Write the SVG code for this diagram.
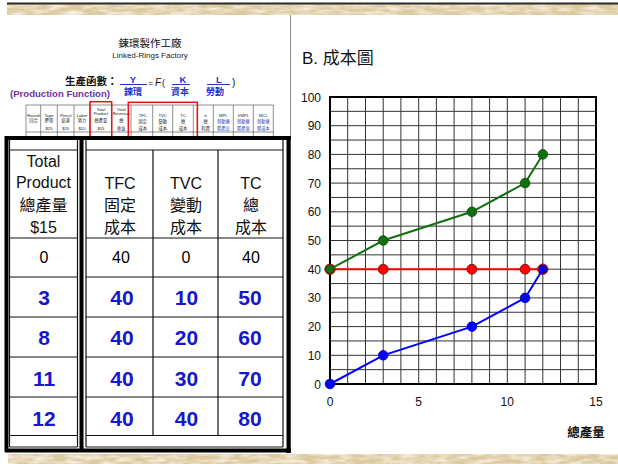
<svg xmlns="http://www.w3.org/2000/svg" width="618" height="464" viewBox="0 0 618 464">
<defs>
<filter id="parch" x="0" y="0" width="1" height="1">
<feTurbulence type="fractalNoise" baseFrequency="0.06 0.25" numOctaves="3" seed="4"/>
<feColorMatrix values="0 0 0 0 1  0 0 0 0 0.97  0 0 0 0 0.9  1.6 0 0 0 -0.55"/>
</filter>
<style>
text{font-family:"Liberation Sans","Noto Sans CJK TC",sans-serif;}
.cj{font-family:"Noto Sans CJK TC","Liberation Sans",sans-serif;}
.st{font-size:4.2px;text-anchor:middle;fill:#222;}
.stb{font-size:4.2px;text-anchor:middle;fill:#3344bb;}
.hd{font-size:16px;text-anchor:middle;fill:#111;}
.r0{font-size:16px;text-anchor:middle;fill:#000;}
.bl{font-size:21px;font-weight:bold;text-anchor:middle;fill:#1616cc;}
.thick{stroke:#000;stroke-width:4;fill:none;}
.thin{stroke:#111;stroke-width:1.2;fill:none;}
.sml{stroke:#444;stroke-width:0.6;fill:none;}
.ax{font-size:12px;fill:#111;}
.minor{stroke:#333;stroke-width:1;fill:none;}
</style>
</defs>
<rect width="618" height="464" fill="#fff"/>
<g id="parchment">
<rect x="7" y="4" width="611" height="11" fill="#dcc9a0"/>
<rect x="7" y="4" width="611" height="11" filter="url(#parch)"/>
<rect x="8" y="454" width="610" height="10" fill="#dcc9a0"/>
<rect x="8" y="454" width="610" height="10" filter="url(#parch)"/>
<line x1="7" y1="3.5" x2="618" y2="3.5" stroke="#2a2a2a" stroke-width="2"/>
<line x1="290.5" y1="15" x2="290.5" y2="452" stroke="#888" stroke-width="1"/>
</g>

<g id="header">
<text x="150" y="47" class="cj" font-size="10.5" text-anchor="middle" fill="#111">鍊環製作工廠</text>
<text x="150" y="58" font-size="8" text-anchor="middle" fill="#222">Linked-Rings Factory</text>
<text x="65" y="85" class="cj" font-size="10.5" font-weight="bold" fill="#111">生產函數：</text>
<text x="133" y="83" font-size="9.5" font-weight="bold" text-anchor="middle" fill="#2233cc">Y</text>
<line x1="120" y1="84.5" x2="147" y2="84.5" stroke="#2233cc" stroke-width="1"/>
<text x="133" y="95" class="cj" font-size="9" font-weight="bold" text-anchor="middle" fill="#2233cc">鍊環</text>
<text x="148" y="86" font-size="9" fill="#111">=</text>
<text x="155" y="86" font-family="Liberation Serif,serif" font-style="italic" font-size="10" fill="#111">F</text>
<text x="162" y="86" font-size="9" fill="#111">(</text>
<text x="183" y="83" font-size="9.5" font-weight="bold" text-anchor="middle" fill="#2233cc">K</text>
<line x1="172" y1="84.5" x2="190" y2="84.5" stroke="#2233cc" stroke-width="1"/>
<text x="180" y="95" class="cj" font-size="9" font-weight="bold" text-anchor="middle" fill="#2233cc">資本</text>
<text x="219" y="83" font-size="9.5" font-weight="bold" text-anchor="middle" fill="#2233cc">L</text>
<line x1="207" y1="84.5" x2="230" y2="84.5" stroke="#2233cc" stroke-width="1"/>
<text x="215" y="95" class="cj" font-size="9" font-weight="bold" text-anchor="middle" fill="#2233cc">勞動</text>
<text x="232" y="86" font-size="10" fill="#111">)</text>
<text x="10" y="97" font-size="9.5" font-weight="bold" fill="#7030a0" textLength="100" lengthAdjust="spacingAndGlyphs">(Production Function)</text>
</g>

<g id="small-table">
<path class="sml" d="M26,105H273.3M26,132H273.3M26,105V136M40.7,105V136M57.3,105V136M74,105V136M90,105V136M111.7,105V136M131,105V136M152.7,105V136M172.7,105V136M193.3,105V136M197.7,105V136M213.3,105V136M233.3,105V136M253.3,105V136M273.3,105V136"/>
<text class="st" x="33.4" y="116.5">Round</text><text class="st cj" x="33.4" y="122">回合</text>
<text class="st" x="49" y="116.5">Tape</text><text class="st cj" x="49" y="122">膠帶</text><text class="st" x="49" y="129.6">$25</text>
<text class="st" x="65.7" y="116.5">Pencil</text><text class="st cj" x="65.7" y="122">鉛筆</text><text class="st" x="65.7" y="129.6">$15</text>
<text class="st" x="82" y="116.5">Labor</text><text class="st cj" x="82" y="122">勞力</text><text class="st" x="82" y="129.6">$10</text>
<text class="st" x="100.9" y="110.5">Total</text><text class="st" x="100.9" y="115.3">Product</text><text class="st cj" x="100.9" y="122">總產量</text><text class="st" x="100.9" y="129.6">$15</text>
<text class="st" x="121.3" y="110.5">Total</text><text class="st" x="121.3" y="115.3" textLength="17" lengthAdjust="spacingAndGlyphs">Revenue</text><text class="st cj" x="121.3" y="122">總</text><text class="st cj" x="121.3" y="129.6">收益</text>
<text class="st" x="142.8" y="117">TFC</text><text class="st cj" x="142.8" y="123">固定</text><text class="st cj" x="142.8" y="129.6">成本</text>
<text class="st" x="162.7" y="117">TVC</text><text class="st cj" x="162.7" y="123">變動</text><text class="st cj" x="162.7" y="129.6">成本</text>
<text class="st" x="183" y="117">TC</text><text class="st cj" x="183" y="123">總</text><text class="st cj" x="183" y="129.6">成本</text>
<text class="st" x="205.5" y="117">π</text><text class="st cj" x="205.5" y="123">總</text><text class="st cj" x="205.5" y="129.6">利潤</text>
<text class="st" x="223.3" y="117">MPL</text><text class="stb cj" x="223.3" y="123">勞動邊</text><text class="stb cj" x="223.3" y="129.6">際產出</text>
<text class="st" x="243.3" y="117">VMPL</text><text class="stb cj" x="243.3" y="123">勞動邊</text><text class="stb cj" x="243.3" y="129.6">際產值</text>
<text class="st" x="263.3" y="117">MCL</text><text class="stb cj" x="263.3" y="123">勞動邊</text><text class="stb cj" x="263.3" y="129.6">際成本</text>
<rect x="90" y="101.7" width="21.7" height="36" fill="none" stroke="#ee1111" stroke-width="1.5"/>
<rect x="128.3" y="102.3" width="69" height="35.5" fill="none" stroke="#ee1111" stroke-width="1.5"/>
</g>

<g id="big-table">
<rect x="9" y="140" width="69" height="307" fill="#fff"/>
<rect x="84" y="140" width="202" height="307" fill="#fff"/>
<path class="thin" d="M9.5,140V447M77.5,140V447M9.5,150H77.5M9.5,238H77.5M9.5,277H77.5M9.5,317H77.5M9.5,357H77.5M9.5,397H77.5M9.5,435.5H77.5M9.5,447H77.5"/>
<path class="thin" d="M86,140V447M283,140V447M153,150V435.5M218,150V435.5M86,150H283M86,238H283M86,277H283M86,317H283M86,357H283M86,397H283M86,435.5H283M86,447H283"/>
<path class="thick" d="M5,138H291M5,450.5H291M6.5,136V452M81.5,136V452M288.5,136V453"/>
<text class="hd" x="43.5" y="167">Total</text>
<text class="hd" x="43.5" y="188">Product</text>
<text class="hd cj" x="43.5" y="211">總產量</text>
<text class="hd" x="43.5" y="233">$15</text>
<text class="hd" x="120" y="189">TFC</text><text class="hd cj" x="120" y="211">固定</text><text class="hd cj" x="120" y="233">成本</text>
<text class="hd" x="186" y="189">TVC</text><text class="hd cj" x="186" y="211">變動</text><text class="hd cj" x="186" y="233">成本</text>
<text class="hd" x="251" y="189">TC</text><text class="hd cj" x="251" y="211">總</text><text class="hd cj" x="251" y="233">成本</text>
<text class="r0" x="44" y="263">0</text><text class="r0" x="121" y="263">40</text><text class="r0" x="186" y="263">0</text><text class="r0" x="251" y="263">40</text>
<text class="bl" x="44" y="305">3</text><text class="bl" x="122" y="305">40</text><text class="bl" x="186.5" y="305">10</text><text class="bl" x="250" y="305">50</text>
<text class="bl" x="44" y="345">8</text><text class="bl" x="122" y="345">40</text><text class="bl" x="186.5" y="345">20</text><text class="bl" x="250" y="345">60</text>
<text class="bl" x="44" y="386">11</text><text class="bl" x="122" y="386">40</text><text class="bl" x="186.5" y="386">30</text><text class="bl" x="250" y="386">70</text>
<text class="bl" x="44" y="426">12</text><text class="bl" x="122" y="426">40</text><text class="bl" x="186.5" y="426">40</text><text class="bl" x="250" y="426">80</text>
</g>

<g id="chart">
<text x="302" y="64" font-size="17" fill="#111">B. <tspan class="cj">成本圖</tspan></text>
<path class="minor" d="M347.7,97V384M365.5,97V384M383.2,97V384M400.9,97V384M418.7,97V384M436.4,97V384M454.1,97V384M471.9,97V384M489.6,97V384M507.3,97V384M525.1,97V384M542.8,97V384M560.5,97V384M578.3,97V384
M330,369.65H596M330,355.3H596M330,340.95H596M330,326.6H596M330,312.25H596M330,297.9H596M330,283.55H596M330,269.2H596M330,254.85H596M330,240.5H596M330,226.15H596M330,211.8H596M330,197.45H596M330,183.1H596M330,168.75H596M330,154.4H596M330,140.05H596M330,125.7H596M330,111.35H596"/>
<rect x="330" y="97" width="266" height="287" fill="none" stroke="#000" stroke-width="2"/>
<g class="ax" text-anchor="end">
<text x="321" y="101.5">100</text><text x="321" y="130.2">90</text><text x="321" y="158.9">80</text><text x="321" y="187.6">70</text><text x="321" y="216.3">60</text><text x="321" y="245">50</text><text x="321" y="273.7">40</text><text x="321" y="302.4">30</text><text x="321" y="331.1">20</text><text x="321" y="359.8">10</text><text x="321" y="388.5">0</text>
</g>
<g class="ax" text-anchor="middle">
<text x="330" y="406">0</text><text x="418.7" y="406">5</text><text x="507.3" y="406">10</text><text x="596" y="406">15</text>
</g>
<text x="586" y="437" class="cj" font-size="12.5" font-weight="bold" text-anchor="middle" fill="#111">總產量</text>
</g>

<g id="connectors">
<polyline points="330,269.2 383.2,269.2 471.9,269.2 525.1,269.2 542.8,269.2" fill="none" stroke="#ff0000" stroke-width="2"/>
<g fill="#ff0000" stroke="#880000" stroke-width="0.8">
<circle cx="330" cy="269.2" r="5.2"/><circle cx="383.2" cy="269.2" r="5"/><circle cx="471.9" cy="269.2" r="5"/><circle cx="525.1" cy="269.2" r="5"/><circle cx="542.8" cy="269.2" r="5.2"/>
</g>
<polyline points="330,269.2 383.2,240.5 471.9,211.8 525.1,183.1 542.8,154.4" fill="none" stroke="#107010" stroke-width="2"/>
<g fill="#107010" stroke="#0a4a0a" stroke-width="0.8">
<circle cx="330" cy="269.2" r="4.2"/><circle cx="383.2" cy="240.5" r="4.8"/><circle cx="471.9" cy="211.8" r="4.8"/><circle cx="525.1" cy="183.1" r="4.8"/><circle cx="542.8" cy="154.4" r="4.8"/>
</g>
<polyline points="330,384 383.2,355.3 471.9,326.6 525.1,297.9 542.8,269.2" fill="none" stroke="#0000ff" stroke-width="2"/>
<g fill="#0000ff" stroke="#00008a" stroke-width="0.8">
<circle cx="330" cy="384" r="4.8"/><circle cx="383.2" cy="355.3" r="4.8"/><circle cx="471.9" cy="326.6" r="4.8"/><circle cx="525.1" cy="297.9" r="4.8"/><circle cx="542.8" cy="269.2" r="4"/>
</g>
</g>
</svg>
